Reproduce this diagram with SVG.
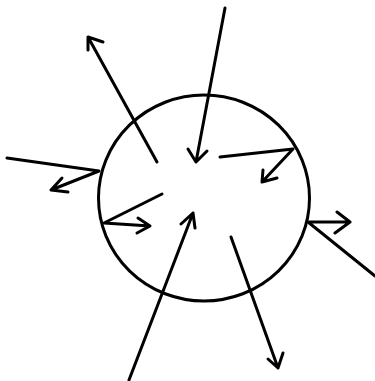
<svg xmlns="http://www.w3.org/2000/svg" width="375" height="381" viewBox="0 0 375 381">
<style>
.s{fill:none;stroke:#000;stroke-width:3;stroke-linecap:round;stroke-linejoin:round}
</style>
<rect width="375" height="381" fill="#fff"/>
<g id="circle">
<ellipse class="s" cx="204" cy="198" rx="105.5" ry="103"/>
</g>
<g id="connectors">
<path class="s" d="M157,162 L88,37 M88,50 L88,37 L103,42"/>
<path class="s" d="M225,8 L196,162 M188,149 L196,162 L207,151"/>
<path class="s" d="M220,157 L293,149 L262,182 M263,170 L262,182 L277,178"/>
<path class="s" d="M7,158 L99,171 L51,190 M62,178 L51,190 L68,192"/>
<path class="s" d="M162,194 L104,223 L150,226 M138,218 L150,226 L137,233"/>
<path class="s" d="M129,380 L193,213 M181,224 L193,213 L195,228"/>
<path class="s" d="M231,237 L278,368 M268,359 L278,368 L283,353"/>
<path class="s" d="M375,276 L308,222 L350,222 M337,212 L350,222 L335,233"/>
</g>
</svg>
